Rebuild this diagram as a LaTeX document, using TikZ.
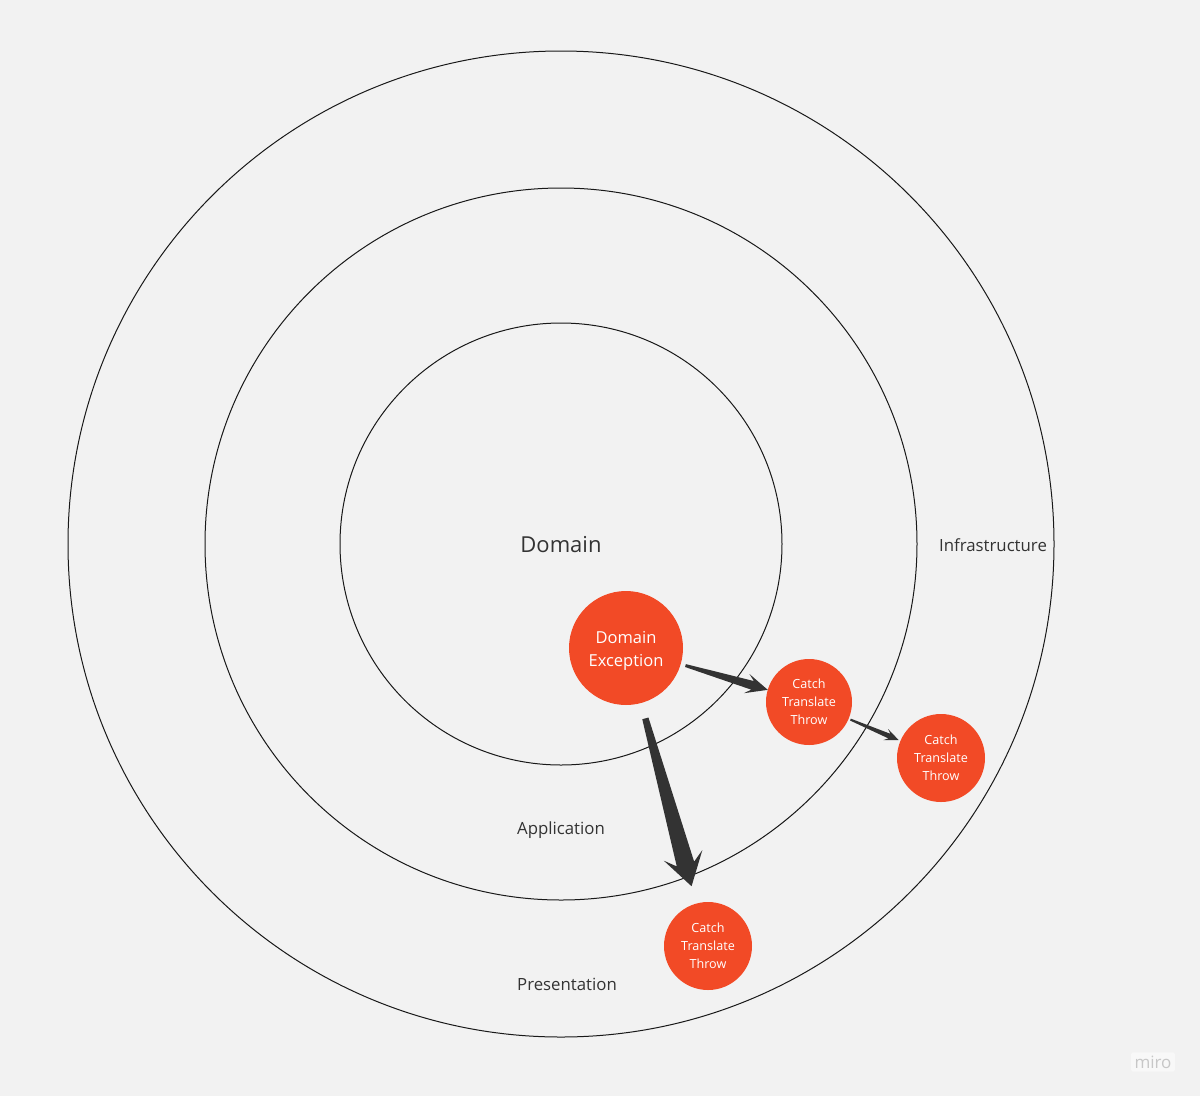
\documentclass[tikz,border=0pt]{standalone}
\usepackage{fontspec}
\setmainfont{Open Sans}
\usetikzlibrary{calc}
\definecolor{miroRed}{HTML}{F24A26}
\definecolor{ink}{HTML}{333333}
\definecolor{paper}{HTML}{F2F2F2}
\begin{document}
\begin{tikzpicture}[x=1pt,y=-1pt,line join=round,
    ring/.style={draw=black!90,line width=1pt,circle,minimum size=#1,inner sep=0pt},
    blob/.style={circle,fill=miroRed,text=white,inner sep=0pt,minimum size=#1,align=center,font=\fontsize{12.6}{18}\selectfont},
    layer/.style={text=ink,font=\fontsize{16.8}{19}\selectfont}]
  \useasboundingbox[fill=paper] (0,0) rectangle (1200,1096);
  % the three layers
  \foreach \d/\n in {986/infra,712/app,442/dom}\node[ring=\d] (\n) at (561,544) {};
  \node[layer,font=\fontsize{22}{26}\selectfont] (domlbl) at (561,545) {Domain};
  \node[layer] (inflbl) at (993,545) {Infrastructure};
  \node[layer] (applbl) at (561,830) {Application};
  \node[layer] (prelbl) at (567,984) {Presentation};
  % exception and handlers
  \node[blob=114] (exc) at (626,648) {};
  \node[text=white,align=center,font=\fontsize{16.5}{23}\selectfont] (exctxt) at (626,651) {Domain\\Exception};
  \node[blob=86] (c1) at (809,702) {Catch\\Translate\\Throw};
  \node[blob=88] (c2) at (941,758) {Catch\\Translate\\Throw};
  \node[blob=88] (c3) at (708,946) {Catch\\Translate\\Throw};
  % tapered arrows
  \coordinate (s1) at ($(exc)!62pt!(c1)$);
  \coordinate (t1) at ($(c1)!43pt!(exc)$);
  \coordinate (s2) at ($(c1)!45pt!(c2)$);
  \coordinate (t2) at ($(c2)!46pt!(c1)$);
  \coordinate (s3) at ($(exc)!73pt!(c3)$);
  \coordinate (t3) at ($(c3)!62pt!(exc)$);
  \foreach \s/\t/\a/\b/\h/\l in {s1/t1/1.5/4.5/10/22,s2/t2/1/2.5/6/14,s3/t3/3.2/9/20/32}{
    \coordinate (J) at ($(\t)!0.72*\l pt!(\s)$);
    \coordinate (B) at ($(\t)!\l pt!(\s)$);
    \fill[ink] ($(\s)!\a pt!90:(\t)$) -- ($(J)!\b pt!-90:(\s)$) -- ($(B)!\h pt!-90:(\s)$) -- (\t)
      -- ($(B)!\h pt!90:(\s)$) -- ($(J)!\b pt!90:(\s)$) -- ($(\s)!\a pt!-90:(\t)$) -- cycle;
  }
  \node[text=black!22,font=\fontsize{17}{20}\selectfont,fill=white!50!paper,rounded corners=2pt] (logo) at (1153,1062) {miro};
\end{tikzpicture}
\end{document}
